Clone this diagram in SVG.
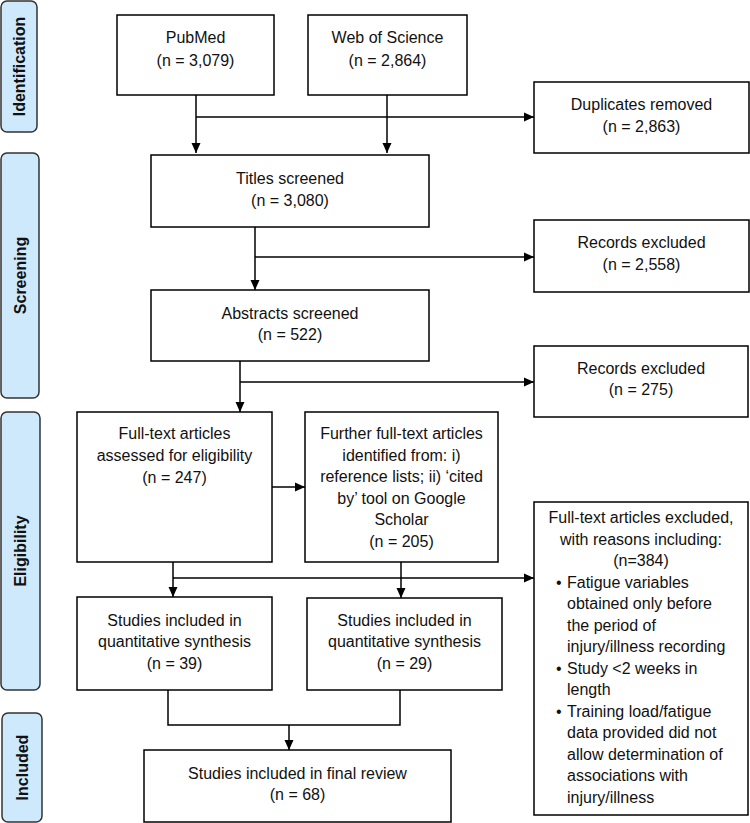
<svg xmlns="http://www.w3.org/2000/svg" width="750" height="823" viewBox="0 0 750 823">
<defs>
<marker id="ah" markerUnits="userSpaceOnUse" markerWidth="10" markerHeight="10" viewBox="0 0 10 10" refX="10" refY="5" orient="auto">
<path d="M0,0.5 L10,5 L0,9.5 Z" fill="#000"/>
</marker>
<style>
.box{fill:#fff;stroke:#000;stroke-width:1.5}
.lab{fill:#cfe9fc;stroke:#333;stroke-width:1.5}
.t{font-family:"Liberation Sans",Arial,sans-serif;font-size:16px;fill:#111;text-anchor:middle}
.tl{font-family:"Liberation Sans",Arial,sans-serif;font-size:16px;fill:#111;text-anchor:start}
.lt{font-family:"Liberation Sans",Arial,sans-serif;font-size:16px;font-weight:bold;fill:#111;text-anchor:middle}
.c{fill:none;stroke:#000;stroke-width:1.5}
.ca{fill:none;stroke:#000;stroke-width:1.5;marker-end:url(#ah)}
</style>
</defs>
<rect width="750" height="823" fill="#fff"/>

<g id="stage-identification">
<rect class="lab" x="1" y="1" width="36" height="131" rx="6"/>
<text class="lt" transform="translate(25,66.5) rotate(-90)">Identification</text>
</g>
<g id="stage-screening">
<rect class="lab" x="1" y="153" width="38" height="245" rx="6"/>
<text class="lt" transform="translate(26,275.5) rotate(-90)">Screening</text>
</g>
<g id="stage-eligibility">
<rect class="lab" x="1" y="412" width="39" height="278" rx="6"/>
<text class="lt" transform="translate(26,551) rotate(-90)">Eligibility</text>
</g>
<g id="stage-included">
<rect class="lab" x="2" y="713" width="40" height="109" rx="6"/>
<text class="lt" transform="translate(28,767.5) rotate(-90)">Included</text>
</g>

<g id="pubmed">
<rect class="box" x="117" y="15" width="157" height="80"/>
<text class="t" x="195.5" y="43">PubMed</text>
<text class="t" x="195.5" y="66">(n = 3,079)</text>
</g>
<g id="wos">
<rect class="box" x="308" y="15" width="159" height="80"/>
<text class="t" x="387.5" y="43">Web of Science</text>
<text class="t" x="387.5" y="66">(n = 2,864)</text>
</g>
<g id="duplicates">
<rect class="box" x="534" y="82" width="215" height="71"/>
<text class="t" x="641.5" y="110">Duplicates removed</text>
<text class="t" x="641.5" y="132">(n = 2,863)</text>
</g>
<g id="titles">
<rect class="box" x="151" y="155" width="278" height="72"/>
<text class="t" x="290" y="184">Titles screened</text>
<text class="t" x="290" y="206">(n = 3,080)</text>
</g>
<g id="excluded1">
<rect class="box" x="534" y="220" width="215" height="72"/>
<text class="t" x="641.5" y="248">Records excluded</text>
<text class="t" x="641.5" y="270">(n = 2,558)</text>
</g>
<g id="abstracts">
<rect class="box" x="151" y="290" width="278" height="71"/>
<text class="t" x="290" y="319">Abstracts screened</text>
<text class="t" x="290" y="340">(n = 522)</text>
</g>
<g id="excluded2">
<rect class="box" x="534" y="346" width="214" height="71"/>
<text class="t" x="641" y="374">Records excluded</text>
<text class="t" x="641" y="395">(n = 275)</text>
</g>
<g id="fulltext">
<rect class="box" x="77" y="412" width="195" height="150"/>
<text class="t" x="174.5" y="439">Full-text articles</text>
<text class="t" x="174.5" y="461">assessed for eligibility</text>
<text class="t" x="174.5" y="483">(n = 247)</text>
</g>
<g id="further">
<rect class="box" x="305" y="412" width="193" height="150"/>
<text class="t" x="401.5" y="439">Further full-text articles</text>
<text class="t" x="401.5" y="461">identified from: i)</text>
<text class="t" x="401.5" y="482">reference lists; ii) ‘cited</text>
<text class="t" x="401.5" y="504">by’ tool on Google</text>
<text class="t" x="401.5" y="525">Scholar</text>
<text class="t" x="401.5" y="547">(n = 205)</text>
</g>
<g id="studies1">
<rect class="box" x="77" y="597" width="195" height="93"/>
<text class="t" x="174.5" y="626">Studies included in</text>
<text class="t" x="174.5" y="647">quantitative synthesis</text>
<text class="t" x="174.5" y="669">(n = 39)</text>
</g>
<g id="studies2">
<rect class="box" x="307" y="598" width="195" height="92"/>
<text class="t" x="404.5" y="626">Studies included in</text>
<text class="t" x="404.5" y="647">quantitative synthesis</text>
<text class="t" x="404.5" y="669">(n = 29)</text>
</g>
<g id="final">
<rect class="box" x="144" y="750" width="307" height="72"/>
<text class="t" x="297.5" y="779">Studies included in final review</text>
<text class="t" x="297.5" y="800">(n = 68)</text>
</g>
<g id="excluded3">
<rect class="box" x="534" y="502" width="214" height="313"/>
<text class="t" x="641" y="523">Full-text articles excluded,</text>
<text class="t" x="641" y="544.5">with reasons including:</text>
<text class="t" x="641" y="566">(n=384)</text>
<text class="tl" x="556" y="587.5">•</text>
<text class="tl" x="567" y="587.5">Fatigue variables</text>
<text class="tl" x="567" y="609">obtained only before</text>
<text class="tl" x="567" y="630.5">the period of</text>
<text class="tl" x="567" y="652">injury/illness recording</text>
<text class="tl" x="556" y="673.5">•</text>
<text class="tl" x="567" y="673.5">Study &lt;2 weeks in</text>
<text class="tl" x="567" y="695">length</text>
<text class="tl" x="556" y="716.5">•</text>
<text class="tl" x="567" y="716.5">Training load/fatigue</text>
<text class="tl" x="567" y="738">data provided did not</text>
<text class="tl" x="567" y="759.5">allow determination of</text>
<text class="tl" x="567" y="781">associations with</text>
<text class="tl" x="567" y="802.5">injury/illness</text>
</g>

<g id="connectors">
<path class="ca" d="M196,95 V153"/>
<path class="ca" d="M387,95 V153"/>
<path class="ca" d="M196,117 H534"/>
<path class="ca" d="M255,227 V290"/>
<path class="ca" d="M255,257 H534"/>
<path class="ca" d="M240,361 V412"/>
<path class="ca" d="M240,382 H534"/>
<path class="ca" d="M272,487 H305"/>
<path class="ca" d="M173,562 V597"/>
<path class="ca" d="M173,578 H534"/>
<path class="ca" d="M401,562 V598"/>
<path class="c" d="M168,690 V725 H400 V690"/>
<path class="ca" d="M289,725 V750"/>
</g>
</svg>
